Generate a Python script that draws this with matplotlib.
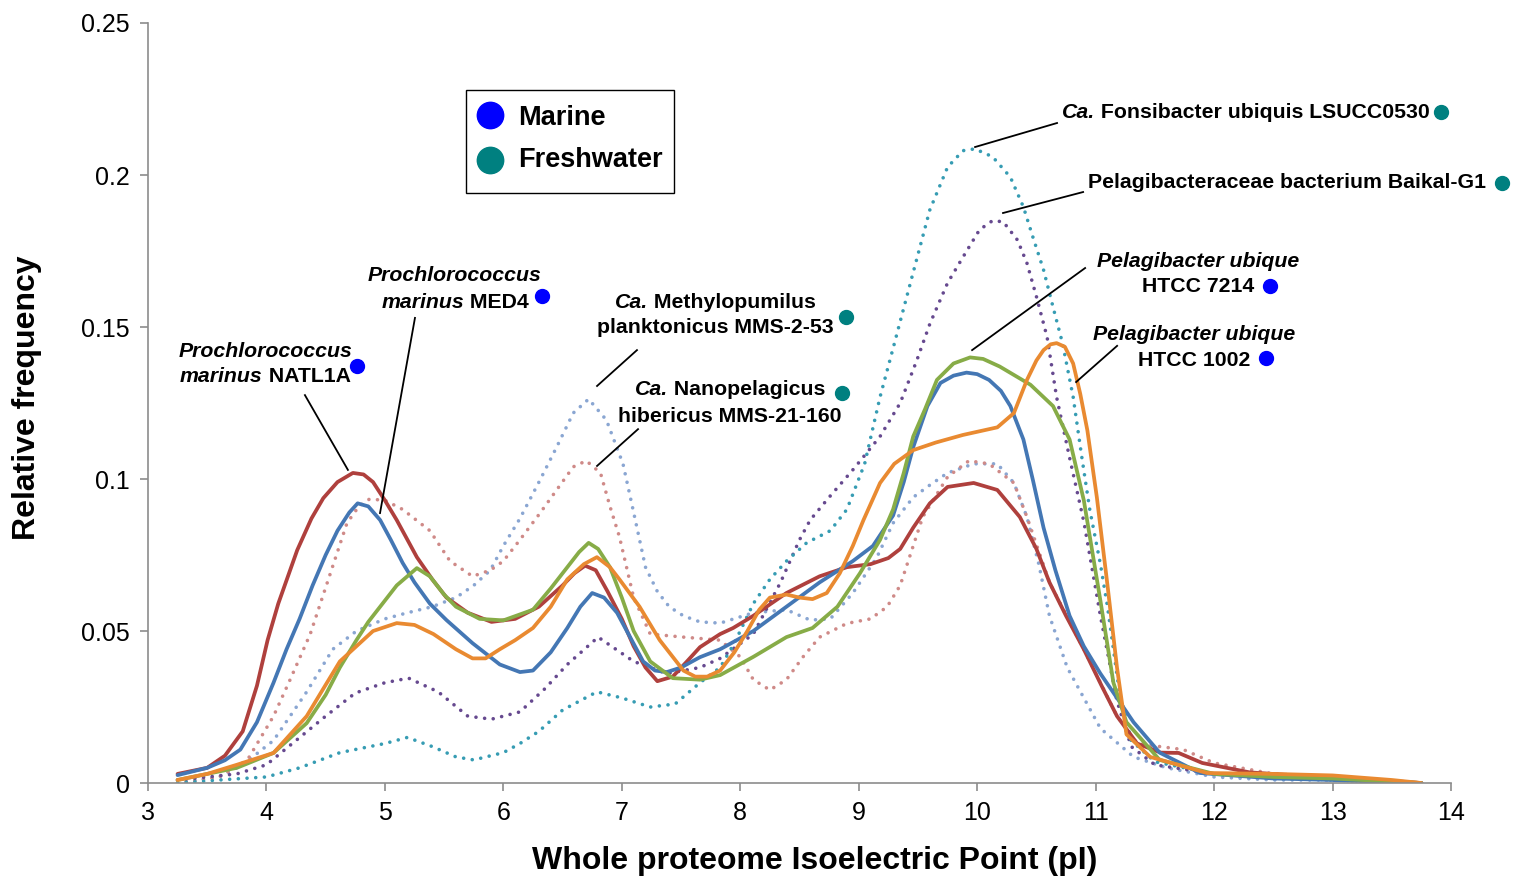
import matplotlib
matplotlib.use("Agg")
import matplotlib.pyplot as plt
import matplotlib.transforms as mtransforms
from matplotlib.patches import Rectangle

plt.rcParams['font.family'] = ['Liberation Sans', 'DejaVu Sans']

# --- marine genomes (solid lines) ---
natl1a_x = [3.25, 3.5, 3.65, 3.8, 3.92, 4.01, 4.1, 4.26, 4.38, 4.48, 4.6, 4.73, 4.82, 4.9, 5.0, 5.1, 5.27,
            5.4, 5.52, 5.7, 5.9, 6.1, 6.3, 6.5, 6.6, 6.69, 6.78, 6.88, 7.0, 7.1, 7.2, 7.3, 7.43, 7.55, 7.66,
            7.83, 7.94, 8.11, 8.39, 8.67, 8.9, 9.1, 9.25, 9.35, 9.46, 9.6, 9.75, 9.97, 10.17, 10.36, 10.5,
            10.61, 10.75, 10.9, 11.05, 11.18, 11.35, 11.55, 11.7, 11.9, 12.3, 12.8, 13.3, 13.75]
natl1a_y = [0.003, 0.005, 0.009, 0.017, 0.032, 0.047, 0.059, 0.0766, 0.087, 0.0937, 0.099, 0.102, 0.1015,
            0.099, 0.093, 0.0865, 0.0743, 0.067, 0.061, 0.056, 0.053, 0.054, 0.058, 0.065, 0.069, 0.0715,
            0.070, 0.063, 0.054, 0.045, 0.038, 0.0335, 0.035, 0.040, 0.0447, 0.049, 0.051, 0.055, 0.0625,
            0.068, 0.071, 0.072, 0.074, 0.077, 0.084, 0.092, 0.0974, 0.0987, 0.0964, 0.0875, 0.077, 0.066,
            0.055, 0.044, 0.032, 0.022, 0.013, 0.010, 0.0099, 0.0066, 0.0035, 0.0022, 0.0012, 0.0]

med4_x = [3.25, 3.5, 3.65, 3.78, 3.92, 4.06, 4.17, 4.28, 4.39, 4.5, 4.6, 4.7, 4.77, 4.86, 4.96, 5.05, 5.15,
          5.25, 5.38, 5.52, 5.74, 5.97, 6.14, 6.25, 6.4, 6.54, 6.65, 6.75, 6.85, 6.96, 7.07, 7.18, 7.28, 7.38,
          7.5, 7.66, 7.83, 8.11, 8.39, 8.67, 8.95, 9.12, 9.29, 9.38, 9.46, 9.58, 9.69, 9.8, 9.91, 10.0, 10.1,
          10.2, 10.28, 10.39, 10.47, 10.56, 10.66, 10.78, 10.9, 11.04, 11.32, 11.54, 11.88, 12.5, 13.0, 13.75]
med4_y = [0.0026, 0.005, 0.0075, 0.011, 0.020, 0.033, 0.044, 0.054, 0.065, 0.075, 0.083, 0.089, 0.092, 0.091,
          0.0865, 0.080, 0.0724, 0.066, 0.059, 0.0536, 0.046, 0.039, 0.0365, 0.037, 0.043, 0.051, 0.058,
          0.0625, 0.061, 0.056, 0.048, 0.040, 0.037, 0.0365, 0.038, 0.0414, 0.044, 0.050, 0.058, 0.066, 0.073,
          0.078, 0.088, 0.099, 0.1105, 0.124, 0.1316, 0.134, 0.135, 0.1345, 0.1326, 0.129, 0.124, 0.113,
          0.0997, 0.084, 0.070, 0.055, 0.045, 0.036, 0.020, 0.010, 0.0033, 0.0015, 0.001, 0.0]

htcc7214_x = [3.25, 3.5, 3.75, 4.06, 4.34, 4.5, 4.62, 4.76, 4.86, 4.96, 5.1, 5.27, 5.38, 5.5, 5.6, 5.8, 6.0,
              6.25, 6.4, 6.54, 6.64, 6.72, 6.8, 6.9, 7.0, 7.1, 7.24, 7.43, 7.66, 7.83, 8.11, 8.39, 8.61, 8.82,
              9.01, 9.18, 9.29, 9.38, 9.46, 9.56, 9.66, 9.8, 9.94, 10.05, 10.19, 10.32, 10.45, 10.64, 10.78,
              10.9, 11.04, 11.15, 11.26, 11.54, 12.0, 12.5, 13.0, 13.75]
htcc7214_y = [0.001, 0.003, 0.005, 0.0099, 0.0197, 0.029, 0.038, 0.047, 0.053, 0.058, 0.065, 0.0707, 0.068,
              0.062, 0.058, 0.054, 0.0535, 0.057, 0.064, 0.071, 0.076, 0.079, 0.077, 0.071, 0.061, 0.050,
              0.040, 0.0345, 0.034, 0.0355, 0.0415, 0.048, 0.051, 0.058, 0.069, 0.080, 0.090, 0.102, 0.114,
              0.123, 0.1326, 0.138, 0.140, 0.1395, 0.137, 0.134, 0.131, 0.124, 0.113, 0.093, 0.060, 0.033,
              0.020, 0.0076, 0.003, 0.002, 0.0015, 0.0]

htcc1002_x = [3.25, 3.5, 3.75, 4.06, 4.34, 4.62, 4.9, 5.1, 5.25, 5.41, 5.6, 5.74, 5.85, 5.97, 6.1, 6.25, 6.4,
              6.54, 6.68, 6.79, 6.9, 6.98, 7.15, 7.32, 7.52, 7.62, 7.72, 7.83, 7.95, 8.06, 8.16, 8.25, 8.39,
              8.5, 8.61, 8.73, 8.84, 8.95, 9.04, 9.18, 9.3, 9.46, 9.65, 9.88, 10.17, 10.31, 10.42, 10.5, 10.56,
              10.62, 10.67, 10.74, 10.81, 10.87, 10.93, 11.01, 11.1, 11.18, 11.26, 11.46, 11.94, 12.5, 13.0,
              13.5, 13.75]
htcc1002_y = [0.001, 0.003, 0.006, 0.0099, 0.022, 0.040, 0.050, 0.0526, 0.052, 0.049, 0.044, 0.041, 0.041,
              0.044, 0.047, 0.051, 0.058, 0.067, 0.072, 0.0743, 0.071, 0.067, 0.058, 0.047, 0.037, 0.035,
              0.035, 0.037, 0.043, 0.050, 0.057, 0.061, 0.062, 0.061, 0.0605, 0.0625, 0.069, 0.078, 0.0865,
              0.0987, 0.105, 0.1095, 0.112, 0.1145, 0.117, 0.1217, 0.1326, 0.139, 0.1424, 0.1443, 0.1447,
              0.1435, 0.138, 0.128, 0.116, 0.094, 0.065, 0.038, 0.016, 0.0086, 0.0033, 0.003, 0.0025, 0.001, 0.0]

# --- freshwater genomes (dotted lines) ---
lsucc_x = [3.25, 3.6, 4.0, 4.28, 4.62, 5.0, 5.19, 5.4, 5.6, 5.75, 6.0, 6.14, 6.3, 6.5, 6.79, 7.0, 7.24, 7.45,
           7.66, 7.83, 7.95, 8.11, 8.25, 8.39, 8.56, 8.76, 8.9, 9.05, 9.18, 9.29, 9.46, 9.6, 9.75, 9.88, 9.98,
           10.13, 10.28, 10.39, 10.47, 10.56, 10.64, 10.72, 10.81, 10.88, 10.95, 11.04, 11.1, 11.2, 11.3,
           11.5, 12.0, 12.5, 13.0, 13.75]
lsucc_y = [0.0, 0.001, 0.002, 0.005, 0.010, 0.013, 0.015, 0.012, 0.0086, 0.0076, 0.010, 0.013, 0.017, 0.024,
           0.030, 0.028, 0.025, 0.026, 0.033, 0.038, 0.046, 0.059, 0.067, 0.073, 0.079, 0.083, 0.090, 0.105,
           0.127, 0.143, 0.168, 0.1885, 0.2026, 0.208, 0.2086, 0.206, 0.1993, 0.1895, 0.1796, 0.1688, 0.1566,
           0.1447, 0.127, 0.108, 0.090, 0.072, 0.058, 0.030, 0.014, 0.007, 0.003, 0.002, 0.001, 0.0]

baikal_x = [3.25, 3.75, 4.0, 4.25, 4.5, 4.75, 5.0, 5.2, 5.45, 5.7, 5.9, 6.14, 6.35, 6.54, 6.8, 7.1, 7.38,
            7.66, 7.83, 8.11, 8.34, 8.5, 8.59, 8.75, 8.95, 9.18, 9.35, 9.49, 9.6, 9.75, 9.88, 10.02, 10.13,
            10.22, 10.34, 10.42, 10.5, 10.59, 10.67, 10.78, 10.9, 11.04, 11.18, 11.3, 11.5, 12.0, 12.5, 13.0, 13.75]
baikal_y = [0.001, 0.003, 0.006, 0.014, 0.022, 0.0296, 0.033, 0.0345, 0.030, 0.022, 0.021, 0.0234, 0.031,
            0.039, 0.048, 0.040, 0.036, 0.038, 0.041, 0.049, 0.066, 0.080, 0.0865, 0.094, 0.103, 0.114, 0.125,
            0.139, 0.151, 0.1645, 0.173, 0.182, 0.185, 0.1846, 0.1786, 0.171, 0.160, 0.1467, 0.127, 0.107,
            0.086, 0.055, 0.027, 0.012, 0.006, 0.003, 0.002, 0.001, 0.0]

mms253_x = [3.25, 3.6, 3.8, 4.06, 4.34, 4.56, 4.76, 5.0, 5.19, 5.4, 5.6, 5.75, 5.89, 6.0, 6.14, 6.31, 6.45,
            6.59, 6.72, 6.87, 7.01, 7.1, 7.2, 7.3, 7.4, 7.52, 7.66, 7.83, 8.11, 8.39, 8.59, 8.76, 8.95, 9.15,
            9.29, 9.46, 9.6, 9.75, 9.97, 10.17, 10.31, 10.42, 10.52, 10.61, 10.76, 11.04, 11.32, 11.6, 12.0,
            12.5, 13.0, 13.75]
mms253_y = [0.0, 0.002, 0.006, 0.014, 0.030, 0.044, 0.050, 0.054, 0.056, 0.058, 0.061, 0.065, 0.070, 0.078,
            0.087, 0.0997, 0.1105, 0.1217, 0.1263, 0.1194, 0.105, 0.089, 0.071, 0.063, 0.058, 0.055, 0.053,
            0.0526, 0.056, 0.057, 0.0536, 0.054, 0.0625, 0.074, 0.0855, 0.094, 0.098, 0.102, 0.105, 0.105,
            0.0987, 0.0875, 0.072, 0.055, 0.038, 0.018, 0.0086, 0.005, 0.002, 0.001, 0.001, 0.0]

mms21_x = [3.25, 3.6, 3.84, 4.06, 4.2, 4.37, 4.54, 4.68, 4.78, 4.87, 5.0, 5.15, 5.38, 5.55, 5.74, 5.89, 6.0,
           6.14, 6.31, 6.45, 6.59, 6.7, 6.82, 6.9, 6.98, 7.1, 7.24, 7.52, 7.83, 8.0, 8.11, 8.25, 8.39, 8.53,
           8.67, 8.9, 9.1, 9.24, 9.35, 9.54, 9.75, 9.93, 10.1, 10.31, 10.42, 10.61, 10.9, 11.18, 11.35, 11.54,
           11.74, 12.0, 12.5, 13.0, 13.75]
mms21_y = [0.0, 0.002, 0.0076, 0.022, 0.034, 0.049, 0.069, 0.0855, 0.091, 0.0934, 0.093, 0.090, 0.083, 0.073,
           0.068, 0.070, 0.073, 0.080, 0.0888, 0.0964, 0.104, 0.106, 0.102, 0.091, 0.081, 0.061, 0.049, 0.048,
           0.047, 0.0415, 0.034, 0.0306, 0.034, 0.0415, 0.048, 0.0525, 0.054, 0.058, 0.065, 0.0875, 0.1007,
           0.106, 0.105, 0.0987, 0.0875, 0.066, 0.044, 0.022, 0.013, 0.012, 0.011, 0.0066, 0.003, 0.002, 0.0]

x_ticks = list(range(3, 15))
y_ticks = [0, 0.05, 0.1, 0.15, 0.2, 0.25]
y_tick_labels = ['0', '0.05', '0.1', '0.15', '0.2', '0.25']

MARINE = '#0000FF'
FRESH = '#008080'

fig = plt.figure(figsize=(15.3, 8.81), dpi=100)
ax = fig.add_axes([0.0967, 0.1112, 0.8517, 0.8627])

dot_style = dict(lw=2.6, linestyle=(0, (0.01, 2.4)), dash_capstyle='round')
ax.plot(mms253_x, mms253_y, color='#8AA6D2', **dot_style)
ax.plot(mms21_x, mms21_y, color='#CF8A88', **dot_style)
ax.plot(baikal_x, baikal_y, color='#66498F', **dot_style)
ax.plot(lsucc_x, lsucc_y, color='#369CB3', **dot_style)

solid_style = dict(lw=2.7, solid_joinstyle='round', solid_capstyle='round')
ax.plot(natl1a_x, natl1a_y, color='#AF403D', **solid_style)
ax.plot(med4_x, med4_y, color='#4477B4', **solid_style)
ax.plot(htcc7214_x, htcc7214_y, color='#87AC47', **solid_style)
ax.plot(htcc1002_x, htcc1002_y, color='#E98A31', **solid_style)

ax.set_xlim(3, 14)
ax.set_ylim(0, 0.25)
ax.set_xticks(x_ticks)
ax.set_yticks(y_ticks)
ax.set_yticklabels(y_tick_labels)
for s in ['top', 'right']:
    ax.spines[s].set_visible(False)
for s in ['left', 'bottom']:
    ax.spines[s].set_color('#8C8C8C')
    ax.spines[s].set_linewidth(1.2)
ax.tick_params(colors='#8C8C8C', labelcolor='black', labelsize=18, length=6, width=1.2)
ax.tick_params(axis='y', pad=7)
ax.tick_params(axis='x', pad=7)

ax.set_xlabel('Whole proteome Isoelectric Point (pI)', fontsize=23, fontweight='bold', va='center')
ax.xaxis.set_label_coords(0.512, -0.1026)
ax.set_ylabel('Relative frequency', fontsize=23, fontweight='bold', va='center')
ax.yaxis.set_label_coords(-0.0929, 0.507)

renderer = fig.canvas.get_renderer()


def rich_label(x, y, parts, size=15.3):
    # parts: list of (text, italic); centred on x
    objs = []
    for s, it in parts:
        t = ax.text(x, y, s, fontsize=size, fontweight='bold', style='italic' if it else 'normal',
                    ha='left', va='center', clip_on=False)
        objs.append(t)
    widths = [t.get_window_extent(renderer).width for t in objs]
    off = -sum(widths) / 2
    for t, w in zip(objs, widths):
        t.set_transform(mtransforms.offset_copy(ax.transData, x=off, y=0, units='dots'))
        off += w


labels = [
    (3.99, [0.1418, 0.1336], [[('Prochlorococcus', True)], [('marinus', True), (' NATL1A', False)]],
     (4.764, 0.1372, MARINE), (4.325, 0.1276, 4.688, 0.1030)),
    (5.592, [0.1668, 0.1582], [[('Prochlorococcus', True)], [('marinus', True), (' MED4', False)]],
     (6.326, 0.1602, MARINE), (5.254, 0.1530, 4.959, 0.0888)),
    (7.787, [0.1582, 0.1497], [[('Ca.', True), (' Methylopumilus', False)], [('planktonicus MMS-2-53', False)]],
     (8.893, 0.1533, FRESH), (7.128, 0.1424, 6.791, 0.1306)),
    (7.913, [0.1293, 0.1207], [[('Ca.', True), (' Nanopelagicus', False)], [('hibericus MMS-21-160', False)]],
     (8.859, 0.1283, FRESH), (7.137, 0.1164, 6.791, 0.1043)),
    (12.27, [0.2204], [[('Ca.', True), (' Fonsibacter ubiquis LSUCC0530', False)]],
     (13.916, 0.2207, FRESH), (10.674, 0.2171, 9.982, 0.2092)),
    (12.616, [0.1974], [[('Pelagibacteraceae bacterium Baikal-G1', False)]],
     (14.431, 0.1974, FRESH), (10.894, 0.1944, 10.218, 0.1875)),
    (11.868, [0.1717, 0.1632], [[('Pelagibacter ubique', True)], [('HTCC 7214', False)]],
     (12.472, 0.1635, MARINE), (10.911, 0.1694, 9.957, 0.1424)),
    (11.831, [0.1477, 0.1391], [[('Pelagibacter ubique', True)], [('HTCC 1002', False)]],
     (12.439, 0.1398, MARINE), (11.181, 0.1438, 10.835, 0.1319)),
]

for lx, ys, lines, dot, lead in labels:
    for ly, parts in zip(ys, lines):
        rich_label(lx, ly, parts)
    ax.plot(dot[0], dot[1], 'o', ms=10, color=dot[2], clip_on=False)
    ax.plot([lead[0], lead[2]], [lead[1], lead[3]], color='black', lw=1.3)

# legend box
ax.add_patch(Rectangle((0.2441, 0.7763), 0.1596, 0.1355, transform=ax.transAxes,
                       facecolor='white', edgecolor='black', lw=1.0))
ax.plot(0.2625, 0.8789, 'o', ms=19, color=MARINE, transform=ax.transAxes)
ax.plot(0.2625, 0.8197, 'o', ms=19, color=FRESH, transform=ax.transAxes)
ax.text(0.284, 0.875, 'Marine', transform=ax.transAxes, fontsize=19.5, fontweight='bold', va='center')
ax.text(0.284, 0.8195, 'Freshwater', transform=ax.transAxes, fontsize=19.5, fontweight='bold', va='center')

fig.savefig('out.png', dpi=100)
